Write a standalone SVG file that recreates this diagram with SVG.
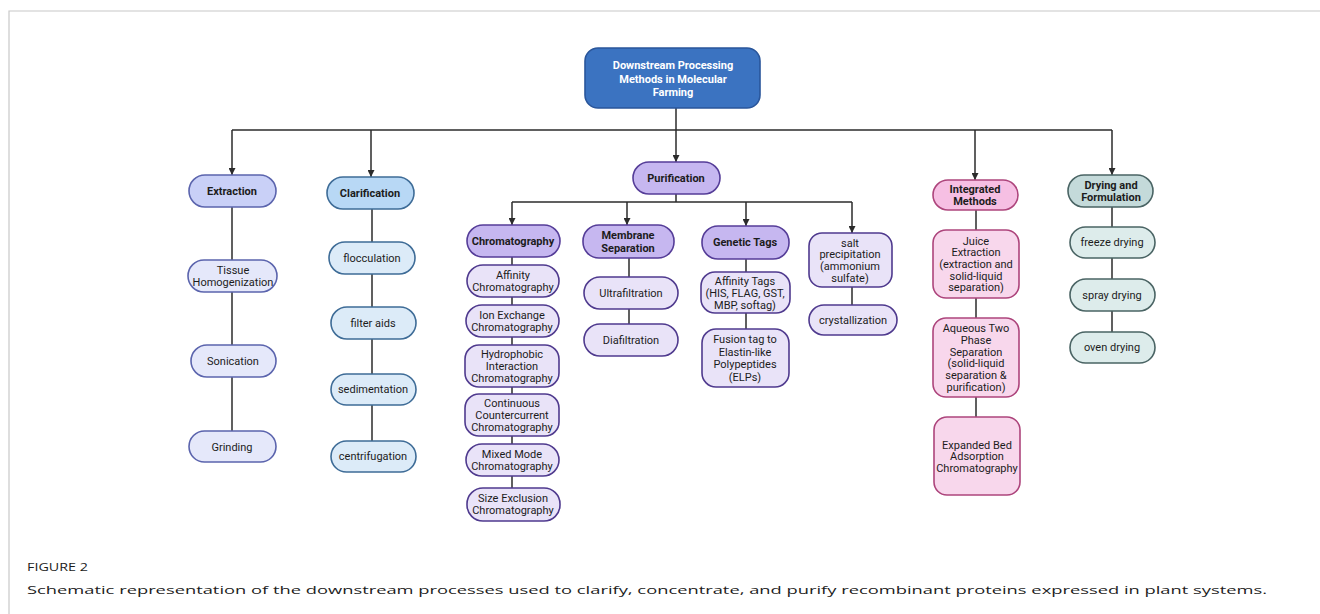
<svg xmlns="http://www.w3.org/2000/svg" width="1320" height="614" viewBox="0 0 1320 614">
<defs>
<marker id="ah" viewBox="0 0 10 10" refX="10" refY="5" markerWidth="7" markerHeight="7" markerUnits="userSpaceOnUse" orient="auto">
<path d="M0,0 L10,5 L0,10 z" fill="#2b2b2b"/>
</marker>
<style>
text{font-family:Roboto,"Liberation Sans",sans-serif;font-size:11px;fill:#1c1c1c;text-anchor:middle}
.b{font-weight:bold;font-size:11px}
.w{fill:#ffffff;font-weight:bold;font-size:11px}
rect{stroke-width:1.6}
.root{fill:#3b73c1;stroke:#2a569b}
.exH{fill:#c9d0f7;stroke:#5b64ad}
.ex{fill:#e5e8fa;stroke:#5b64ad}
.clH{fill:#b8d8f5;stroke:#3e6c97}
.cl{fill:#dcebf8;stroke:#3e6c97}
.puH{fill:#c6b7f0;stroke:#553d98}
.pu{fill:#e9e3f8;stroke:#4f3a8e}
.inH{fill:#f6bfe3;stroke:#ad457c}
.in{fill:#f8d7ec;stroke:#ad457c}
.drH{fill:#c4dada;stroke:#4a6464}
.dr{fill:#ddeceb;stroke:#4a6464}
.c line,.c path{stroke:#2b2b2b;stroke-width:1.5;fill:none}
.cap{font-family:"Open Sans","Liberation Sans",sans-serif;text-anchor:start}
</style>
</defs>
<rect width="1320" height="614" fill="#ffffff" style="stroke:none"/>
<path d="M9,614 V11 H1320" fill="none" stroke="#c8c8c8" stroke-width="1.2"/>

<g id="connectors" class="c">
<line x1="676" y1="108" x2="676" y2="162" marker-end="url(#ah)"/>
<line x1="232" y1="130" x2="1112" y2="130"/>
<line x1="232" y1="130" x2="232" y2="175" marker-end="url(#ah)"/>
<line x1="371" y1="130" x2="371" y2="177" marker-end="url(#ah)"/>
<line x1="975" y1="130" x2="975" y2="180" marker-end="url(#ah)"/>
<line x1="1112" y1="130" x2="1112" y2="175" marker-end="url(#ah)"/>
<line x1="232" y1="207" x2="232" y2="260"/>
<line x1="232" y1="292" x2="232" y2="345"/>
<line x1="232" y1="377" x2="232" y2="431"/>
<line x1="372" y1="209" x2="372" y2="242"/>
<line x1="372" y1="274" x2="372" y2="307"/>
<line x1="372" y1="339" x2="372" y2="374"/>
<line x1="372" y1="405" x2="372" y2="441"/>
<line x1="676" y1="194" x2="676" y2="202"/>
<line x1="512" y1="202" x2="852" y2="202"/>
<line x1="512" y1="202" x2="512" y2="225" marker-end="url(#ah)"/>
<line x1="627" y1="202" x2="627" y2="225" marker-end="url(#ah)"/>
<line x1="746" y1="202" x2="746" y2="226" marker-end="url(#ah)"/>
<line x1="852" y1="202" x2="852" y2="233" marker-end="url(#ah)"/>
<line x1="512" y1="257" x2="512" y2="265"/>
<line x1="512" y1="297" x2="512" y2="305"/>
<line x1="512" y1="337" x2="512" y2="345"/>
<line x1="512" y1="387" x2="512" y2="394"/>
<line x1="512" y1="436" x2="512" y2="444"/>
<line x1="512" y1="476" x2="512" y2="488"/>
<line x1="629" y1="258" x2="629" y2="277"/>
<line x1="629" y1="309" x2="629" y2="324"/>
<line x1="746" y1="259" x2="746" y2="272"/>
<line x1="746" y1="313" x2="746" y2="329"/>
<line x1="852" y1="287" x2="852" y2="305"/>
<line x1="976" y1="210" x2="976" y2="230"/>
<line x1="976" y1="298" x2="976" y2="318"/>
<line x1="976" y1="397" x2="976" y2="417"/>
<line x1="1112" y1="207" x2="1112" y2="227"/>
<line x1="1112" y1="258" x2="1112" y2="279"/>
<line x1="1112" y1="311" x2="1112" y2="332"/>
</g>

<g id="root"><rect class="root" x="585" y="48" width="175" height="60" rx="13"/>
<text class="w" x="673" y="69">Downstream Processing</text>
<text class="w" x="673" y="82.5">Methods in Molecular</text>
<text class="w" x="673" y="96">Farming</text></g>

<g id="extraction"><rect class="exH" x="189" y="175" width="87" height="32" rx="16"/><text class="b" x="232" y="195">Extraction</text></g>
<g id="tissue"><rect class="ex" x="188" y="260" width="89" height="32" rx="16"/><text x="233" y="274">Tissue</text><text x="233" y="286">Homogenization</text></g>
<g id="sonication"><rect class="ex" x="191" y="345" width="85" height="32" rx="16"/><text x="233" y="365">Sonication</text></g>
<g id="grinding"><rect class="ex" x="189" y="431" width="87" height="31" rx="15.5"/><text x="232" y="451">Grinding</text></g>

<g id="clarification"><rect class="clH" x="327" y="177" width="87" height="32" rx="16"/><text class="b" x="370" y="197">Clarification</text></g>
<g id="flocculation"><rect class="cl" x="329" y="242" width="86" height="32" rx="16"/><text x="372" y="262">flocculation</text></g>
<g id="filteraids"><rect class="cl" x="331" y="307" width="85" height="32" rx="16"/><text x="373" y="327">filter aids</text></g>
<g id="sedimentation"><rect class="cl" x="331" y="374" width="85" height="31" rx="15.5"/><text x="373" y="393">sedimentation</text></g>
<g id="centrifugation"><rect class="cl" x="331" y="441" width="85" height="31" rx="15.5"/><text x="373" y="460">centrifugation</text></g>

<g id="purification"><rect class="puH" x="633" y="162" width="87" height="32" rx="16"/><text class="b" x="676" y="182">Purification</text></g>
<g id="chromatography"><rect class="puH" x="467" y="225" width="93" height="32" rx="16"/><text class="b" x="513" y="245">Chromatography</text></g>
<g id="affinity"><rect class="pu" x="467" y="265" width="92" height="32" rx="16"/><text x="513" y="279">Affinity</text><text x="513" y="291">Chromatography</text></g>
<g id="ionexchange"><rect class="pu" x="466" y="305" width="93" height="32" rx="16"/><text x="512" y="319">Ion Exchange</text><text x="512" y="331">Chromatography</text></g>
<g id="hydrophobic"><rect class="pu" x="465" y="345" width="94" height="42" rx="14"/><text x="512" y="358">Hydrophobic</text><text x="512" y="370">Interaction</text><text x="512" y="382">Chromatography</text></g>
<g id="continuous"><rect class="pu" x="465" y="394" width="94" height="42" rx="14"/><text x="512" y="407">Continuous</text><text x="512" y="419">Countercurrent</text><text x="512" y="431">Chromatography</text></g>
<g id="mixedmode"><rect class="pu" x="466" y="444" width="93" height="32" rx="16"/><text x="512" y="458">Mixed Mode</text><text x="512" y="470">Chromatography</text></g>
<g id="sizeexclusion"><rect class="pu" x="467" y="488" width="93" height="33" rx="16"/><text x="513" y="502">Size Exclusion</text><text x="513" y="514">Chromatography</text></g>

<g id="membrane"><rect class="puH" x="583" y="225" width="91" height="33" rx="16"/><text class="b" x="628" y="239">Membrane</text><text class="b" x="628" y="252">Separation</text></g>
<g id="ultrafiltration"><rect class="pu" x="584" y="277" width="94" height="32" rx="16"/><text x="631" y="297">Ultrafiltration</text></g>
<g id="diafiltration"><rect class="pu" x="584" y="324" width="94" height="32" rx="16"/><text x="631" y="344">Diafiltration</text></g>

<g id="genetictags"><rect class="puH" x="702" y="226" width="87" height="33" rx="16"/><text class="b" x="745" y="246">Genetic Tags</text></g>
<g id="affinitytags"><rect class="pu" x="701" y="272" width="89" height="41" rx="14"/><text x="745" y="285">Affinity Tags</text><text x="745" y="297">(HIS, FLAG, GST,</text><text x="745" y="309">MBP, softag)</text></g>
<g id="fusiontag"><rect class="pu" x="702" y="329" width="87" height="58" rx="14"/><text x="745" y="343">Fusion tag to</text><text x="745" y="356">Elastin-like</text><text x="745" y="368">Polypeptides</text><text x="745" y="381">(ELPs)</text></g>

<g id="salt"><rect class="pu" x="809" y="233" width="83" height="54" rx="13"/><text x="850" y="246.5">salt</text><text x="850" y="258.2">precipitation</text><text x="850" y="269.9">(ammonium</text><text x="850" y="281.6">sulfate)</text></g>
<g id="crystallization"><rect class="pu" x="809" y="305" width="88" height="30" rx="15"/><text x="853" y="324">crystallization</text></g>

<g id="integrated"><rect class="inH" x="933" y="180" width="85" height="30" rx="15"/><text class="b" x="975" y="193">Integrated</text><text class="b" x="975" y="205">Methods</text></g>
<g id="juice"><rect class="in" x="933" y="230" width="86" height="68" rx="13"/><text x="976" y="244.5">Juice</text><text x="976" y="256.2">Extraction</text><text x="976" y="267.9">(extraction and</text><text x="976" y="279.6">solid-liquid</text><text x="976" y="291.3">separation)</text></g>
<g id="aqueous"><rect class="in" x="933" y="318" width="86" height="79" rx="13"/><text x="976" y="332">Aqueous Two</text><text x="976" y="343.8">Phase</text><text x="976" y="355.6">Separation</text><text x="976" y="367.4">(solid-liquid</text><text x="976" y="379.2">separation &amp;</text><text x="976" y="391">purification)</text></g>
<g id="expandedbed"><rect class="in" x="934" y="417" width="86" height="78" rx="13"/><text x="977" y="448.5">Expanded Bed</text><text x="977" y="460.2">Adsorption</text><text x="977" y="471.9">Chromatography</text></g>

<g id="drying"><rect class="drH" x="1068" y="175" width="85" height="32" rx="16"/><text class="b" x="1111" y="189">Drying and</text><text class="b" x="1111" y="201">Formulation</text></g>
<g id="freeze"><rect class="dr" x="1070" y="227" width="85" height="31" rx="15.5"/><text x="1112" y="246">freeze drying</text></g>
<g id="spray"><rect class="dr" x="1070" y="279" width="85" height="32" rx="16"/><text x="1112" y="299">spray drying</text></g>
<g id="oven"><rect class="dr" x="1070" y="332" width="85" height="31" rx="15.5"/><text x="1112" y="351">oven drying</text></g>

<text class="cap" x="27" y="571" font-size="15" fill="#6a6a6a" textLength="61" lengthAdjust="spacingAndGlyphs">FIGURE 2</text>
<text class="cap" x="27" y="594" font-size="18" fill="#666666" textLength="1240" lengthAdjust="spacingAndGlyphs">Schematic representation of the downstream processes used to clarify, concentrate, and purify recombinant proteins expressed in plant systems.</text>
</svg>
